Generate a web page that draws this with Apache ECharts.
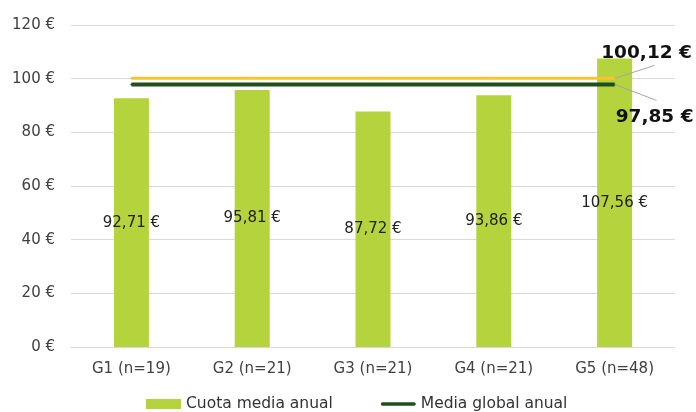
<!DOCTYPE html>
<html>
<head>
<meta charset="utf-8">
<script src="https://cdn.jsdelivr.net/npm/echarts@6/dist/echarts.min.js"></script>
<style>
  html, body { margin: 0; padding: 0; background: #fff; }
  .chart { width: 696px; height: 412px; }
</style>
</head>
<body>
<div class="chart"></div>
<script>
const categories = ['G1 (n=19)', 'G2 (n=21)', 'G3 (n=21)', 'G4 (n=21)', 'G5 (n=48)'];
const cuotaMedia = [92.71, 95.81, 87.72, 93.86, 107.56];
const mediaGlobal = 97.85;
const mediaRef = 100.12;
const yTicks = [0, 20, 40, 60, 80, 100, 120];

const fmt = v => v.toFixed(2).replace('.', ',') + ' €';
const FONT = 'DejaVu Sans';

// lineas horizontales: mismo valor en todas las categorias, etiqueta solo en la ultima
const flat = (v, labelOpt) => categories.map((c, i) =>
  i === categories.length - 1 ? { value: v, label: labelOpt } : v);

let option = {
  textStyle: { fontFamily: FONT },
  grid: { left: 71, right: 21, top: 25, bottom: 65 },
  legend: {
    bottom: -5,
    left: 141,
    itemWidth: 35,
    itemHeight: 10,
    itemGap: 48,
    textStyle: { fontSize: 15.5, color: '#333', fontFamily: FONT },
    data: [
      { name: 'Cuota media anual', icon: 'rect' },
      { name: 'Media global anual', icon: 'path://M2,0H38A2,2 0 0 1 38,4H2A2,2 0 0 1 2,0Z' }
    ]
  },
  xAxis: {
    type: 'category',
    data: categories,
    axisTick: { show: false },
    axisLine: { lineStyle: { color: '#d9d9d9' } },
    axisLabel: { fontSize: 15, color: '#404040', margin: 15 }
  },
  yAxis: {
    type: 'value',
    min: yTicks[0],
    max: yTicks[yTicks.length - 1],
    interval: 20,
    splitLine: { lineStyle: { color: '#d9d9d9' } },
    axisLabel: { fontSize: 15, color: '#404040', margin: 16, formatter: '{value} €' }
  },
  series: [{
    name: 'Cuota media anual',
    type: 'bar',
    barWidth: 35,
    data: cuotaMedia,
    itemStyle: { color: '#b5d33d' },
    label: {
      show: true,
      position: 'inside',
      fontSize: 15,
      color: '#222',
      formatter: p => fmt(p.value)
    },
    z: 1
  }, {
    name: 'Media referencia',
    type: 'line',
    symbol: 'circle',
    symbolSize: 2,
    showSymbol: true,
    data: flat(mediaRef, {
      show: true, position: 'top', fontSize: 18.5, fontWeight: 'bold', color: '#111',
      formatter: p => fmt(p.value)
    }),
    itemStyle: { color: '#f7c530' },
    lineStyle: { color: '#f7c530', width: 3 },
    labelLayout: { dx: 32, dy: -10 },
    z: 3
  }, {
    name: 'Media global anual',
    type: 'line',
    symbol: 'circle',
    symbolSize: 2,
    showSymbol: true,
    data: flat(mediaGlobal, {
      show: true, position: 'bottom', fontSize: 18.5, fontWeight: 'bold', color: '#111',
      formatter: p => fmt(p.value)
    }),
    itemStyle: { color: '#1f4e1f' },
    lineStyle: { color: '#1f4e1f', width: 4 },
    labelLayout: { dx: 40, dy: 17 },
    z: 4
  }]
};

let myChart = echarts.init(document.querySelector('.chart'));
myChart.setOption(option);

// lineas guia desde el final de cada linea hasta su etiqueta
const last = categories.length - 1;
const pRef = myChart.convertToPixel({ seriesIndex: 1 }, [last, mediaRef]);
const pGlob = myChart.convertToPixel({ seriesIndex: 2 }, [last, mediaGlobal]);
const guideStyle = { stroke: '#a6a6a6', lineWidth: 1 };
myChart.setOption({
  graphic: [
    { type: 'line', z: 10, shape: { x1: pRef[0], y1: pRef[1], x2: pRef[0] + 40, y2: pRef[1] - 13 }, style: guideStyle },
    { type: 'line', z: 10, shape: { x1: pGlob[0], y1: pGlob[1], x2: pGlob[0] + 42, y2: pGlob[1] + 16 }, style: guideStyle }
  ]
});
</script>
</body>
</html>
